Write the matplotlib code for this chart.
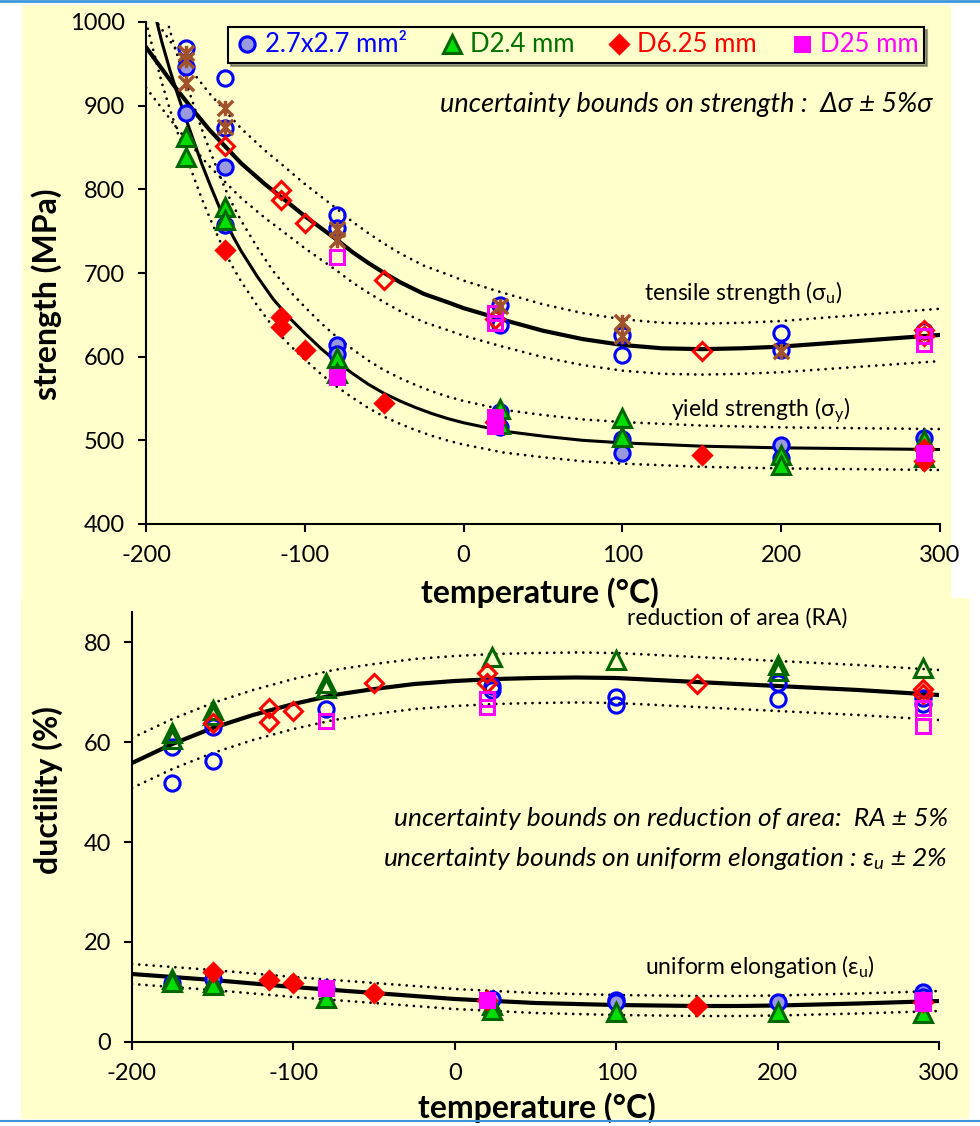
import matplotlib
matplotlib.use("Agg")
import matplotlib.pyplot as plt
from matplotlib.lines import Line2D
from matplotlib.patches import Rectangle
from matplotlib.path import Path
import numpy as np

plt.rcParams['font.family'] = ['Lato', 'DejaVu Sans']
plt.rcParams['mathtext.fontset'] = 'custom'
plt.rcParams['mathtext.rm'] = 'Lato'
plt.rcParams['mathtext.it'] = 'Lato:italic'
plt.rcParams['axes.unicode_minus'] = False

# Data ===========================================
# fitted curves
T_ts = [-200, -190, -180, -170, -160, -150, -140, -125, -115, -100, -80, -70, -60, -50,
        -40, -25, -10, 0, 25, 50, 75, 100, 125, 150, 175, 200, 250, 300]
ts_fit = [970, 944, 918, 894, 871, 851, 831, 806, 791, 768, 740, 725, 712, 700,
          689, 675, 665, 658, 644, 631, 621, 614, 610, 609, 610, 612, 619, 626]

T_ys = [-200, -195, -190, -185, -180, -175, -170, -165, -160, -155, -150, -145, -140,
        -130, -120, -110, -100, -90, -80, -70, -60, -50, -40, -30, -20, -10, 0,
        25, 50, 75, 100, 150, 200, 250, 300]
ys_fit = [1053, 1014, 976, 943, 913, 885, 858, 831, 807, 784, 762, 743, 726,
          696, 669, 647, 628, 610, 594, 580, 567, 556, 547, 539, 532, 526, 521,
          511, 505, 500, 497, 493, 491, 490, 489]

T_du = [-200, -175, -150, -125, -100, -75, -50, -25, 0, 25, 50, 75, 100, 125, 150,
        175, 200, 250, 300]
ra_fit = [55.8, 59.6, 62.8, 65.4, 67.6, 69.4, 70.6, 71.6, 72.2, 72.6, 72.8, 72.9,
          72.8, 72.4, 72.0, 71.6, 71.2, 70.4, 69.4]
ue_fit = [13.6, 13.0, 12.4, 11.7, 11.0, 10.4, 9.8, 9.2, 8.6, 8.2, 7.8, 7.6, 7.4,
          7.3, 7.2, 7.2, 7.3, 7.7, 8.2]

# 2.7x2.7 mm2 (circles)
c_ts_T = [-175, -150, -150, -80, -80, 23, 23, 100, 100, 200, 200, 290]
c_ts = [969, 933, 873, 769, 754, 662, 638, 626, 602, 628, 608, 631]
c_ys_T = [-175, -175, -150, -150, -80, -80, 23, 23, 100, 100, 200, 200, 290, 290]
c_ys = [946, 891, 827, 757, 614, 603, 534, 516, 501, 485, 494, 479, 503, 490]
c_ra_T = [-175, -175, -150, -150, -80, 23, 23, 100, 100, 200, 200, 290, 290]
c_ra = [59.0, 51.8, 63.0, 56.2, 66.6, 71.2, 70.4, 69.0, 67.4, 71.8, 68.6, 68.8, 67.6]
c_ue_T = [-175, -150, -80, 23, 100, 100, 200, 290, 290]
c_ue = [11.8, 12.6, 10.8, 8.6, 8.4, 8.0, 8.0, 10.0, 9.0]

# D2.4 mm (triangles)
t_ys_T = [-175, -175, -150, -150, -80, -80, 23, 23, 100, 100, 200, 200, 290, 290]
t_ys = [863, 839, 779, 763, 599, 580, 538, 519, 527, 504, 483, 471, 500, 480]
t_ra_T = [-175, -175, -150, -150, -80, -80, 23, 100, 200, 200, 290]
t_ra = [61.8, 60.6, 66.4, 65.4, 71.8, 70.8, 77.0, 76.4, 75.4, 74.2, 74.8]
t_ue_T = [-175, -175, -150, -150, -80, 23, 23, 100, 200, 290]
t_ue = [12.6, 12.0, 12.0, 11.4, 8.8, 7.4, 6.4, 6.0, 6.0, 5.8]

# D6.25 mm (diamonds)
d_ts_T = [-150, -115, -115, -100, -50, 20, 150, 290, 290]
d_ts = [852, 799, 787, 760, 692, 645, 607, 632, 625]
d_ys_T = [-150, -115, -115, -100, -50, 20, 150, 290, 290]
d_ys = [728, 648, 636, 608, 545, 522, 483, 490, 475]
d_ra_T = [-150, -115, -115, -100, -50, 20, 20, 150, 290, 290]
d_ra = [63.8, 66.8, 64.0, 66.2, 71.8, 73.8, 71.8, 71.6, 70.6, 69.6]
d_ue_T = [-150, -115, -100, -50, 20, 150, 290]
d_ue = [14.0, 12.4, 11.8, 9.8, 8.4, 7.2, 8.0]

# D25 mm (squares)
s_ts_T = [-80, 20, 20, 290, 290]
s_ts = [719, 652, 640, 625, 615]
s_ys_T = [-80, 20, 20, 290]
s_ys = [576, 528, 517, 485]
s_ra_T = [-80, 20, 20, 290, 290]
s_ra = [64.2, 68.6, 67.0, 66.8, 63.2]
s_ue_T = [-80, 20, 290, 290]
s_ue = [10.8, 8.4, 8.5, 7.8]

# unlabelled tensile data (brown stars)
b_ts_T = [-175, -175, -175, -150, -150, -80, -80, 23, 100, 100, 200]
b_ts = [963, 955, 927, 897, 875, 752, 740, 660, 642, 625, 607]

labels = ['2.7x2.7 mm²', 'D2.4 mm', 'D6.25 mm', 'D25 mm']

# Styles =========================================
YEL = '#FFFFCC'
star = Path([(-1, -1), (1, 1), (-1, 1), (1, -1), (0, -1), (0, 1)],
            [Path.MOVETO, Path.LINETO, Path.MOVETO, Path.LINETO, Path.MOVETO, Path.LINETO])
sty = {
    'c': dict(marker='o', ms=11, mec='#0000FF', face='#9999DD', mew=2.2, txt='#0000FF'),
    't': dict(marker='^', ms=12.5, mec='#006600', face='#00DD00', mew=2.2, txt='#007000'),
    'd': dict(marker='D', ms=9.5, mec='#FF0000', face='#FF0000', mew=2.2, txt='#FF0000'),
    's': dict(marker='s', ms=10, mec='#FF00FF', face='#FF00FF', mew=2.2, txt='#FF00FF'),
}


def pts(ax, key, T, v, filled):
    s = sty[key]
    ax.plot(T, v, ls='none', marker=s['marker'], ms=s['ms'], mec=s['mec'],
            mfc=s['face'] if filled else 'none', mew=s['mew'], zorder=4, clip_on=False)


def fit(ax, T, v, lw, band, rel):
    v = np.array(v, dtype=float)
    ax.plot(T, v, color='black', lw=lw, zorder=3)
    lo = v * (1 - band) if rel else v - band
    hi = v * (1 + band) if rel else v + band
    for b in (lo, hi):
        ax.plot(T, b, color='black', lw=2, ls=(0, (0.01, 2.6)),
                dash_capstyle='round', zorder=3)


def style_axes(ax, ylim, yticks):
    ax.set_facecolor('none')
    ax.set_xlim(-200, 300)
    ax.set_ylim(*ylim)
    ax.set_xticks(range(-200, 301, 100))
    ax.set_yticks(yticks)
    for sp in ('top', 'right'):
        ax.spines[sp].set_visible(False)
    for sp in ('left', 'bottom'):
        ax.spines[sp].set_linewidth(1.5)
    ax.tick_params(direction='out', length=6, width=1.5, labelsize=17, pad=9)


# General ========================================
fig = plt.figure(figsize=(9.8, 11.26), dpi=100, facecolor='white')
# two pasted panels: lower one first, upper one laid over it
fig.add_artist(Rectangle((21 / 980, 1 - 1118 / 1126), (968 - 21) / 980, 520 / 1126,
                         transform=fig.transFigure, color=YEL, zorder=-2))
fig.add_artist(Rectangle((22 / 980, 1 - 607 / 1126), (950 - 22) / 980, 602 / 1126,
                         transform=fig.transFigure, color=YEL, zorder=0.5))
fig.add_artist(Line2D([0, 1], [0.999, 0.999], color='#3C96D8', lw=2, zorder=3))
fig.add_artist(Line2D([0, 1], [1 - 1121 / 1126] * 2, color='#3C96D8', lw=1.5, zorder=3))

# Strength =======================================
ax1 = fig.add_axes([146 / 980, 1 - 524 / 1126, 794 / 980, 502 / 1126])
ax1.set_zorder(1)
style_axes(ax1, (400, 1000), range(400, 1001, 100))
fit(ax1, T_ts, ts_fit, 3, 0.05, True)
fit(ax1, T_ys, ys_fit, 2.2, 0.05, True)
pts(ax1, 'c', c_ts_T, c_ts, False)
pts(ax1, 'c', c_ys_T, c_ys, True)
pts(ax1, 't', t_ys_T, t_ys, True)
pts(ax1, 'd', d_ts_T, d_ts, False)
pts(ax1, 'd', d_ys_T, d_ys, True)
pts(ax1, 's', s_ts_T, s_ts, False)
pts(ax1, 's', s_ys_T, s_ys, True)
ax1.plot(b_ts_T, b_ts, ls='none', marker=star, ms=11, mec='#A0522D', mew=2.5, zorder=4)

ax1.set_ylabel('strength (MPa)', fontsize=23, fontweight='bold')
ax1.yaxis.set_label_coords(-0.1247, 0.458)
ax1.set_xlabel('temperature (°C)', fontsize=23, fontweight='bold')
ax1.xaxis.set_label_coords(0.496, -0.137)
for lab in (ax1.xaxis.label, ax1.yaxis.label):
    lab.set_va('center')
    lab.set_ha('center')

ax1.text(295, 901, 'uncertainty bounds on strength :  Δσ ± 5%σ', ha='right', va='center',
         fontsize=19.5, style='italic')
ax1.text(176, 677, 'tensile strength (σ$_\\mathregular{u}$)', ha='center', va='center', fontsize=16.5)
ax1.text(187, 536, 'yield strength (σ$_\\mathregular{y}$)', ha='center', va='center', fontsize=16.5)

# Ductility ======================================
ax2 = fig.add_axes([132 / 980, 1 - 1042 / 1126, 807 / 980, 430 / 1126])
ax2.set_zorder(0)
style_axes(ax2, (0, 86), range(0, 81, 20))
fit(ax2, T_du, ra_fit, 3, 5, False)
fit(ax2, T_du, ue_fit, 3, 2, False)
pts(ax2, 'c', c_ra_T, c_ra, False)
pts(ax2, 'c', c_ue_T, c_ue, True)
pts(ax2, 't', t_ra_T, t_ra, False)
pts(ax2, 't', t_ue_T, t_ue, True)
pts(ax2, 'd', d_ra_T, d_ra, False)
pts(ax2, 'd', d_ue_T, d_ue, True)
pts(ax2, 's', s_ra_T, s_ra, False)
pts(ax2, 's', s_ue_T, s_ue, True)

ax2.set_ylabel('ductility (%)', fontsize=23, fontweight='bold')
ax2.yaxis.set_label_coords(-0.105, 0.586)
ax2.set_xlabel('temperature (°C)', fontsize=23, fontweight='bold')
ax2.xaxis.set_label_coords(0.502, -0.153)
for lab in (ax2.xaxis.label, ax2.yaxis.label):
    lab.set_va('center')
    lab.set_ha('center')

# top of this label is hidden under the upper panel, as in the original
ax2.text(175, 83.4, 'reduction of area (RA)', ha='center', va='baseline', fontsize=16.5)
ax2.text(305.6, 44.8, 'uncertainty bounds on reduction of area:  RA ± 5%', ha='right',
         va='center', fontsize=19, style='italic')
ax2.text(305.6, 36.8, 'uncertainty bounds on uniform elongation : ε$_\\mathregular{u}$ ± 2%',
         ha='right', va='center', fontsize=19, style='italic')
ax2.text(189, 15, 'uniform elongation (ε$_\\mathregular{u}$)', ha='center', va='center', fontsize=16.5)

# Legend =========================================
handles = [Line2D([], [], ls='none', marker=sty[k]['marker'], ms=sty[k]['ms'],
                  mec=sty[k]['mec'], mfc=sty[k]['face'], mew=sty[k]['mew'])
           for k in ('c', 't', 'd', 's')]
leg = fig.legend(handles, labels, loc='upper center', bbox_to_anchor=(576 / 980, 1 - 14 / 1126),
                 ncol=4, fontsize=18.5, frameon=True, fancybox=False, shadow=True,
                 facecolor=YEL, edgecolor='black', handletextpad=0.2, columnspacing=1.25,
                 handlelength=1.0, borderpad=0.22)
leg.set_zorder(5)
leg.get_frame().set_linewidth(1.5)
for t, k in zip(leg.get_texts(), ('c', 't', 'd', 's')):
    t.set_color(sty[k]['txt'])

fig.savefig('out.png', dpi=100, facecolor=fig.get_facecolor())
